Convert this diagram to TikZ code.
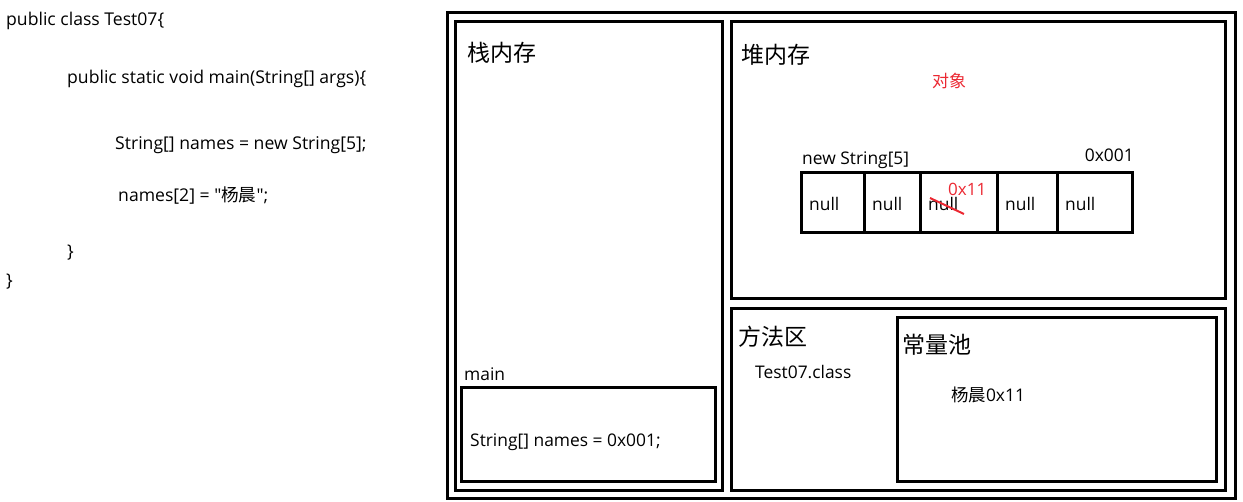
\documentclass[tikz,border=0pt]{standalone}
\usepackage{fontspec}
\newfontfamily\ui{Open Sans}
\newfontfamily\cjk{Noto Sans CJK SC}
\usetikzlibrary{positioning}
\definecolor{markred}{RGB}{235,40,50}

\begin{document}
\begin{tikzpicture}[x=1pt, y=-1pt,
    box/.style={draw, line width=3pt},
    code/.style={anchor=west, inner sep=0pt, font=\ui\fontsize{17.6}{20}\selectfont},
    area/.style={anchor=west, inner sep=0pt, font=\cjk\fontsize{23}{27}\selectfont},
    label/.style={anchor=west, inner sep=0pt, font=\ui\fontsize{17.4}{20}\selectfont},
    note/.style={anchor=west, inner sep=0pt, text=markred, font=\cjk\fontsize{17}{20}\selectfont}
]
\useasboundingbox (0,0) rectangle (1243,502);

% Source code
\node[code] (c1) at (6,21) {public class Test07\{};
\node[code] (c2) at (67,79) {public static void main(String[] args)\{};
\node[code] (c3) at (115,145) {String[] names = new String[5];};
\node[code] (c4) at (118,196) {names[2] = "{\cjk 杨晨}";};
\node[code] (c5) at (67,253) {\}};
\node[code] (c6) at (6,282) {\}};

% Memory areas
\draw[box] (447,13) rectangle (1235,499);
\draw[box] (455,22) rectangle (722,491);
\draw[box] (731,22) rectangle (1225,299);
\draw[box] (731,309) rectangle (1225,491);
\draw[box] (897,318) rectangle (1216,482);
\draw[box] (461,388) rectangle (715,482);

% Area titles
\node[area] (stack) at (467,53) {栈内存};
\node[area] (heap) at (741,55) {堆内存};
\node[area] (method) at (738,337) {方法区};
\node[area] (pool) at (902,345) {常量池};

% Stack frame
\node[label] (main) at (464,374) {main};
\node[label] (ref) at (470,442) {String[] names = 0x001;};

% Heap object
\node[note] (obj) at (932,81) {对象};
\node[label] (arr) at (802,160) {new String[5]};
\node[label, anchor=east] (addr) at (1134,155) {0x001};
\foreach \a/\b [count=\i] in {801/864, 864/920, 920/997, 997/1057, 1057/1132}
{
    \draw[box] (\a,173) rectangle (\b,233);
    \node[label] (n\i) at ({\a+8},204) {null};
}
\draw[markred, line width=2pt] (930,198) -- (964,214);
\node[note, font=\ui\fontsize{17}{20}\selectfont] (val) at (948,189) {0x11};

% Method area
\node[label] (cls) at (755,372) {Test07.class};
\node[label] (str) at (951,395) {{\cjk 杨晨}0x11};

\end{tikzpicture}
\end{document}
